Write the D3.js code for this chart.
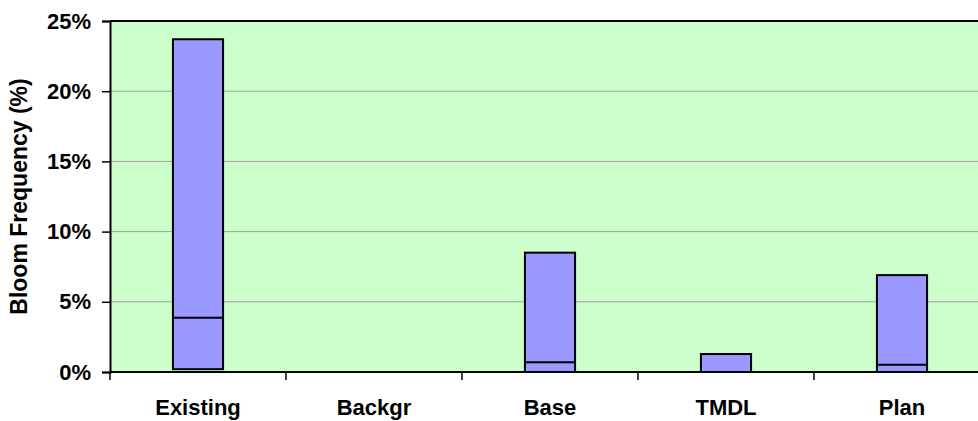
<!DOCTYPE html>
<html>
<head>
<meta charset="utf-8">
<script src="https://cdn.jsdelivr.net/npm/d3@7/dist/d3.min.js"></script>
<style>
  html, body { margin: 0; padding: 0; background: #ffffff; }
  svg { display: block; }
  text { font-family: Arial, "Liberation Sans", Helvetica, sans-serif; font-weight: bold; fill: #000; }
</style>
</head>
<body>
<div id="chart"></div>
<script>
// ---- data ----
const categories = ["Existing", "Backgr", "Base", "TMDL", "Plan"];
const minValues = [0.2, null, 0.0, 0.0, 0.0];
const medianValues = [3.87, null, 0.69, 0.0, 0.52];
const maxValues = [23.7, null, 8.5, 1.28, 6.9];
const yTicks = [0, 5, 10, 15, 20, 25];
const yTitle = "Bloom Frequency (%)";

// ---- layout ----
const W = 978, H = 421;
const plotLeft = 110, plotTop = 21, plotBottom = 372;
const bandRight = 990; // the plot extends beyond the visible picture

const svg = d3.select("#chart").append("svg")
  .attr("width", W).attr("height", H);

const x = d3.scaleBand().domain(categories).range([plotLeft, bandRight]).padding(0);
const y = d3.scaleLinear().domain([0, 25]).range([plotBottom, plotTop]);

// plot background
svg.append("rect")
  .attr("x", plotLeft).attr("y", y(25))
  .attr("width", W - plotLeft).attr("height", y(0) - y(25))
  .attr("fill", "#CCFFCC");

// gridlines
svg.append("g").selectAll("line")
  .data(yTicks.filter(t => t > 0 && t < 25))
  .join("line")
  .attr("x1", plotLeft).attr("x2", W)
  .attr("y1", d => y(d)).attr("y2", d => y(d))
  .attr("stroke", "#A0A0A0").attr("stroke-width", 1);

// top border
svg.append("line")
  .attr("x1", plotLeft).attr("x2", W)
  .attr("y1", y(25)).attr("y2", y(25))
  .attr("stroke", "#000").attr("stroke-width", 2);

// bars (floating range boxes with median line)
const rows = categories.map((c, i) => ({ c, lo: minValues[i], med: medianValues[i], hi: maxValues[i] }))
  .filter(d => d.hi !== null);
const bw = x.bandwidth() * 0.285;

const g = svg.append("g");
g.selectAll("rect.box").data(rows).join("rect")
  .attr("class", "box")
  .attr("x", d => x(d.c) + x.bandwidth() / 2 - bw / 2)
  .attr("y", d => y(d.hi))
  .attr("width", bw)
  .attr("height", d => y(d.lo) - y(d.hi))
  .attr("fill", "#9999FF")
  .attr("stroke", "#000").attr("stroke-width", 2);

g.selectAll("line.med").data(rows).join("line")
  .attr("class", "med")
  .attr("x1", d => x(d.c) + x.bandwidth() / 2 - bw / 2)
  .attr("x2", d => x(d.c) + x.bandwidth() / 2 + bw / 2)
  .attr("y1", d => y(d.med)).attr("y2", d => y(d.med))
  .attr("stroke", "#000").attr("stroke-width", 2);

// y axis
const yAxis = svg.append("g").attr("transform", `translate(${plotLeft},0)`)
  .call(d3.axisLeft(y).tickValues(yTicks).tickFormat(d => d + "%").tickSize(8).tickPadding(11));
yAxis.select(".domain").attr("stroke", "#000").attr("stroke-width", 2);
yAxis.selectAll(".tick line").attr("stroke", "#000").attr("stroke-width", 1.5);
yAxis.selectAll(".tick text")
  .style("font-size", "22px").style("font-family", "Arial, 'Liberation Sans', sans-serif")
  .style("font-weight", "bold").attr("fill", "#000");

// x axis
svg.append("line")
  .attr("x1", plotLeft).attr("x2", W)
  .attr("y1", y(0)).attr("y2", y(0))
  .attr("stroke", "#000").attr("stroke-width", 2);

const boundaries = categories.map(c => x(c));
svg.append("g").selectAll("line").data(boundaries).join("line")
  .attr("x1", d => d).attr("x2", d => d)
  .attr("y1", y(0)).attr("y2", y(0) + 8)
  .attr("stroke", "#000").attr("stroke-width", 1.5);

svg.append("g").selectAll("text").data(categories).join("text")
  .attr("x", d => x(d) + x.bandwidth() / 2)
  .attr("y", 415)
  .attr("text-anchor", "middle")
  .style("font-size", "22px")
  .text(d => d);

// y title
svg.append("text")
  .attr("transform", `translate(27,${(y(0) + y(25)) / 2}) rotate(-90)`)
  .attr("text-anchor", "middle")
  .style("font-size", "23px")
  .text(yTitle);
</script>
</body>
</html>
